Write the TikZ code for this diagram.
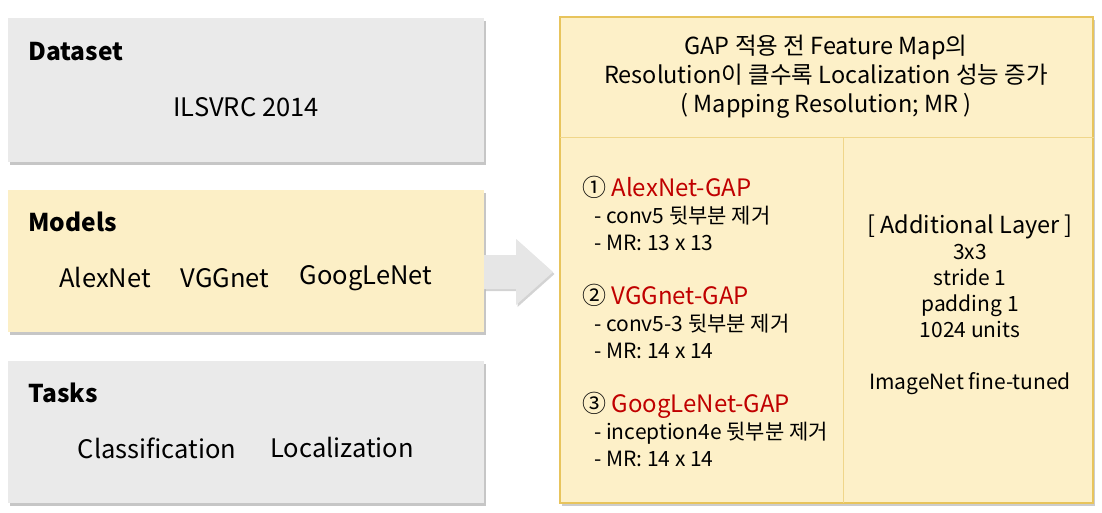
\documentclass[tikz,border=0pt]{standalone}
\usepackage{fontspec}
\setmainfont{Noto Sans CJK KR}
\usetikzlibrary{calc,positioning,shadows}
\definecolor{boxgray}{HTML}{EAEAEA}
\definecolor{boxyellow}{HTML}{FCEFC6}
\definecolor{panelfill}{HTML}{FDF0C8}
\definecolor{panelline}{HTML}{E8C45C}
\definecolor{panelsep}{HTML}{F0D68A}
\definecolor{gapred}{HTML}{C00000}
\definecolor{arrowgray}{HTML}{E6E6E6}

\begin{document}
\begin{tikzpicture}[
  x=1pt,
  y=-1pt,
  card/.style={minimum width=476pt, minimum height=144pt, inner sep=0pt,
    drop shadow={shadow xshift=2pt, shadow yshift=-2.5pt, opacity=.45}},
  head/.style={font=\fontsize{24.5}{28}\selectfont\bfseries, anchor=west, inner sep=0pt},
  item/.style={font=\fontsize{25.5}{29}\selectfont, inner sep=0pt},
  body/.style={font=\fontsize{21}{27}\selectfont, inner sep=0pt}
]
  \useasboundingbox (0,0) rectangle (1102,512);

  % left column
  \node[card, fill=boxgray] (dataset) at (246,90) {};
  \node[card, fill=boxyellow, minimum height=142pt] (models) at (246,261) {};
  \node[card, fill=boxgray, minimum height=142pt] (tasks) at (246,432) {};

  \node[head] (datasetT) at (28,52) {Dataset};
  \node[item] (ilsvrc) at (246,107) {ILSVRC 2014};

  \node[head] (modelsT) at (28,222) {Models};
  \node[item] (alex) at (105,278) {AlexNet};
  \node[item] (vgg) at (225,278) {VGGnet};
  \node[item] (goog) at (366,278) {GoogLeNet};

  \node[head] (tasksT) at (28,393) {Tasks};
  \node[item] (cls) at (157,448) {Classification};
  \node[item] (loc) at (342,448) {Localization};

  % right panel
  \node[draw=panelline, fill=panelfill, line width=1.2pt, minimum width=533pt, minimum height=486pt,
    inner sep=0pt, drop shadow={shadow xshift=2pt, shadow yshift=-2.5pt, opacity=.4}] (panel) at (826.5,260) {};
  \coordinate (sepL) at (560,137);
  \draw[panelsep, line width=1pt] (sepL) -- (sepL -| panel.east);
  \draw[panelsep, line width=1pt] (843,137) -- (843,503);

  \node[body, font=\fontsize{23.5}{29}\selectfont, align=center] (header) at (826,77)
    {GAP 적용 전 Feature Map의\\Resolution이 클수록 Localization 성능 증가\\( Mapping Resolution; MR )};

  \node[body, anchor=west, align=left] (gaps) at (582,321)
    {{\fontsize{24}{27}\selectfont ① \textcolor{gapred}{AlexNet-GAP}}\\
     \hspace*{12pt}- conv5 뒷부분 제거\\
     \hspace*{12pt}- MR: 13 x 13\\
     \mbox{}\\
     {\fontsize{24}{27}\selectfont ② \textcolor{gapred}{VGGnet-GAP}}\\
     \hspace*{12pt}- conv5-3 뒷부분 제거\\
     \hspace*{12pt}- MR: 14 x 14\\
     \mbox{}\\
     {\fontsize{24}{27}\selectfont ③ \textcolor{gapred}{GoogLeNet-GAP}}\\
     \hspace*{12pt}- inception4e 뒷부분 제거\\
     \hspace*{12pt}- MR: 14 x 14};

  \node[body, font=\fontsize{21}{26}\selectfont, align=center] (layer) at (970,305)
    {{\fontsize{23.5}{26}\selectfont [ Additional Layer ]}\\3x3\\stride 1\\padding 1\\1024 units\\\mbox{}\\ImageNet fine-tuned};

  % arrow
  \coordinate (arrowtip) at (553,272);
  \fill[arrowgray, drop shadow={shadow xshift=1.5pt, shadow yshift=-2pt, opacity=.35}]
    (models.east |- arrowtip) ++(0,-17) -- ++(32,0) -- ++(0,-16) -- (arrowtip)
    -- ++(-37,33) -- ++(0,-16) -- ++(-32,0) -- cycle;
\end{tikzpicture}
\end{document}
